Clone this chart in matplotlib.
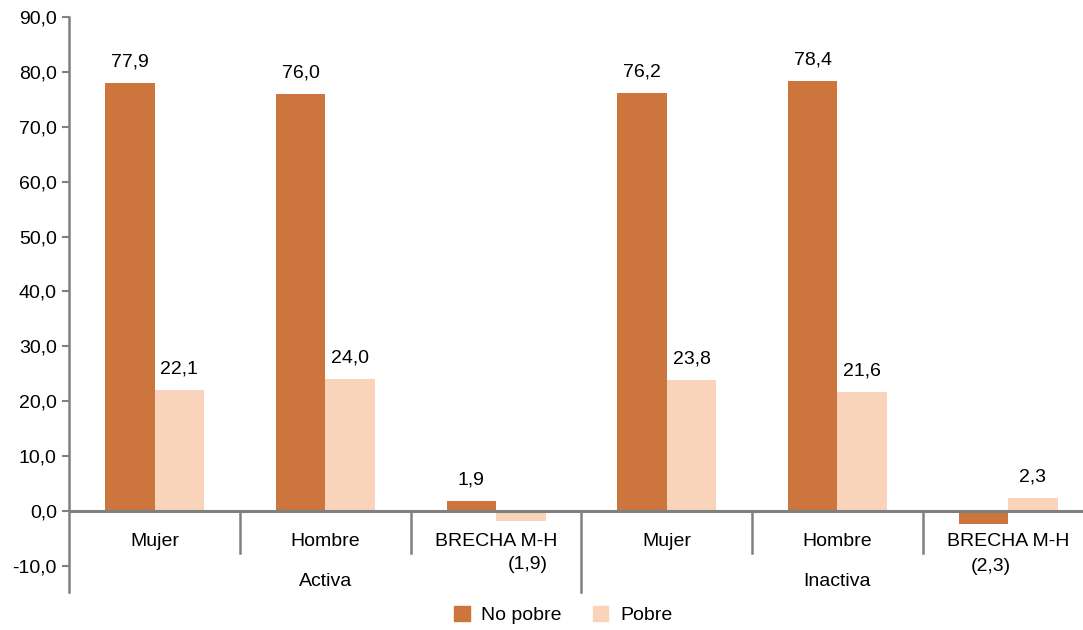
import matplotlib
matplotlib.use('Agg')
import matplotlib.pyplot as plt
from matplotlib.patches import Patch

categories = ['Mujer', 'Hombre', 'BRECHA M-H', 'Mujer', 'Hombre', 'BRECHA M-H']
groups = ['Activa', 'Inactiva']
no_pobre = [77.9, 76.0, 1.9, 76.2, 78.4, -2.3]
pobre = [22.1, 24.0, -1.9, 23.8, 21.6, 2.3]
series_names = ['No pobre', 'Pobre']

COLOR_NO_POBRE = '#CC763D'
COLOR_POBRE = '#F9D3BA'
GRAY = '#808080'

plt.rcParams['font.family'] = ['Liberation Sans Narrow', 'Liberation Sans', 'DejaVu Sans']
FS = 14


def fmt(v):
	s = '%.1f' % abs(v)
	s = s.replace('.', ',')
	if v < 0:
		return '(' + s + ')'
	return s


fig = plt.figure(figsize=(10.83, 6.3), dpi=100)
# axes run past the right edge of the figure, as in the original
ax = fig.add_axes([0.064, 0.0603, 0.9457, 0.9127])

width = 0.29
x = list(range(len(categories)))

for vals, off, color in [(no_pobre, -width / 2, COLOR_NO_POBRE), (pobre, width / 2, COLOR_POBRE)]:
	xs = [i + off for i in x]
	ax.bar(xs, vals, width=width, color=color, zorder=2)
	for xi, v in zip(xs, vals):
		if v >= 0:
			ax.annotate(fmt(v), (xi, v), xytext=(0, 9), textcoords='offset points',
				ha='center', va='bottom', fontsize=FS)
		else:
			ax.annotate(fmt(v), (xi, v), xytext=(5, -25), textcoords='offset points',
				ha='center', va='top', fontsize=FS)

ax.set_xlim(-0.5, len(categories) - 0.5)
ax.set_ylim(-14.75, 90)
ax.set_yticks(range(-10, 100, 10))
ax.set_yticklabels([('%.1f' % t).replace('.', ',') for t in range(-10, 100, 10)])
ax.tick_params(axis='y', labelsize=FS, length=5, width=1.5, color=GRAY, direction='out', pad=4)
ax.set_xticks([])

for s in ['top', 'right', 'bottom']:
	ax.spines[s].set_visible(False)
ax.spines['left'].set_color(GRAY)
ax.spines['left'].set_linewidth(1.8)

ax.axhline(0, color=GRAY, lw=2.2, zorder=3)

# category separators
for i in range(len(categories) - 1):
	sx = i + 0.5
	if i == 2:
		ax.plot([sx, sx], [0, -14.75], color=GRAY, lw=1.8, clip_on=False)
	else:
		ax.plot([sx, sx], [0, -7.65], color=GRAY, lw=1.8, clip_on=False)

for i, c in enumerate(categories):
	ax.text(i, -5.6, c, ha='center', va='center', fontsize=FS)

for g, name in enumerate(groups):
	ax.text(g * 3 + 1, -12.8, name, ha='center', va='center', fontsize=FS)

handles = [Patch(color=COLOR_NO_POBRE), Patch(color=COLOR_POBRE)]
fig.legend(handles, series_names, loc='lower center', bbox_to_anchor=(0.52, -0.018), ncol=2,
	frameon=False, fontsize=FS, handlelength=0.8, handleheight=0.8, columnspacing=1.6, handletextpad=0.6)

plt.savefig('out.png', dpi=100)
